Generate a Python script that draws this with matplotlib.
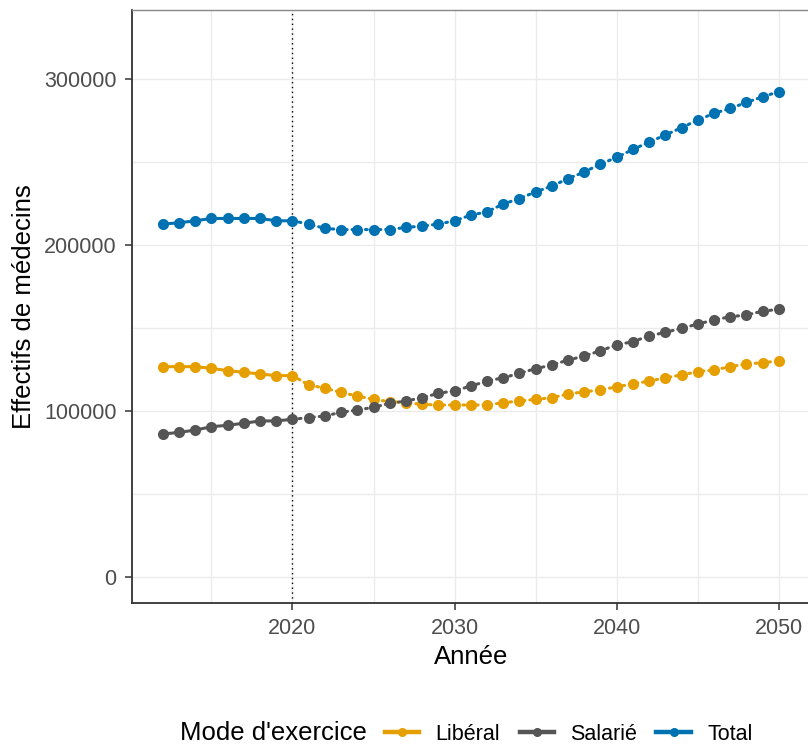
import numpy as np
import matplotlib.pyplot as plt
from matplotlib.lines import Line2D

plt.rcParams['font.family'] = ['Liberation Sans', 'DejaVu Sans']

years = np.arange(2012, 2051)

liberal = [126.7, 126.7, 126.7, 125.7, 124.3, 123.3, 122.3, 121.3, 121.3,
           115.7, 113.7, 111.2, 109.0, 107.0, 105.6, 105.0, 104.0, 103.6, 103.6,
           103.6, 103.6, 105.0, 106.0, 107.0, 108.0, 110.2, 111.6, 112.6, 114.6,
           116.3, 118.0, 120.0, 121.7, 123.7, 124.7, 126.7, 128.3, 129.1, 130.1]
salarie = [86.1, 87.1, 88.5, 90.5, 91.4, 92.6, 94.0, 94.0, 95.0,
           96.0, 97.0, 99.2, 100.6, 102.2, 104.6, 106.0, 108.0, 110.6, 112.2,
           115.0, 118.0, 120.0, 122.7, 125.5, 127.7, 130.7, 133.1, 136.3, 139.8,
           141.8, 145.2, 147.4, 149.8, 152.4, 154.8, 156.8, 157.8, 160.2, 161.2]
total = [212.6, 213.4, 214.6, 216.0, 216.0, 216.0, 216.0, 214.6, 214.6,
         212.6, 210.0, 209.3, 209.3, 209.3, 209.3, 210.6, 211.4, 212.6, 214.6,
         218.0, 220.0, 224.7, 228.0, 232.0, 235.5, 240.0, 244.0, 248.8, 252.8,
         257.6, 262.0, 266.3, 270.7, 275.3, 279.3, 282.3, 285.9, 289.3, 292.4]

series_names = ['Libéral', 'Salarié', 'Total']
series_values = [liberal, salarie, total]
colors = ['#E69F00', '#555555', '#0072B2']
cutoff_year = 2020

fig = plt.figure(figsize=(8.08, 7.49), dpi=100)
ax = fig.add_axes([132 / 808, 1 - 603 / 749, 1 - 132 / 808 + 0.002, (603 - 10) / 749])

for name, vals, col in zip(series_names, series_values, colors):
    y = np.array(vals) * 1000
    obs = years <= cutoff_year
    proj = years >= cutoff_year
    ax.plot(years[obs], y[obs], color=col, lw=2.2, solid_capstyle='round', zorder=3)
    ax.plot(years[proj], y[proj], color=col, lw=2.2, linestyle=(0, (0.6, 1.6)),
            dash_capstyle='round', zorder=3)
    ax.plot(years, y, 'o', color=col, markersize=8, markeredgewidth=0, zorder=4)

ax.axvline(cutoff_year, color='black', lw=1.0, linestyle=(0, (1, 2.5)), zorder=2)

ax.set_xlim(2010.1, 2051.9)
ax.set_ylim(-15700, 341600)
ax.set_xticks([2020, 2030, 2040, 2050])
ax.set_xticks([2015, 2025, 2035, 2045], minor=True)
ax.set_yticks([0, 100000, 200000, 300000])
ax.set_yticks([50000, 150000, 250000], minor=True)
ax.set_yticklabels(['0', '100000', '200000', '300000'])
ax.grid(True, which='both', color='#EBEBEB', lw=1.0, zorder=0)
ax.set_axisbelow(True)

ax.tick_params(axis='both', which='major', labelsize=15.5, labelcolor='#4D4D4D',
               color='#333333', length=5, width=1.1, pad=6)
ax.tick_params(axis='both', which='minor', length=0)

for side in ['left', 'bottom']:
    ax.spines[side].set_color('#333333')
    ax.spines[side].set_linewidth(1.3)
ax.spines['top'].set_color('#888888')
ax.spines['top'].set_linewidth(1.0)
ax.spines['right'].set_visible(False)

ax.set_xlabel('Année', fontsize=18.5, labelpad=4)
ax.set_ylabel('Effectifs de médecins', fontsize=18.5, labelpad=6)

fig.text(180 / 808, 1 - 733 / 749, "Mode d'exercice", fontsize=18.5, va='center', ha='left')
handles = [Line2D([0], [0], color=c, lw=3.2, marker='o', markersize=6.5, markeredgewidth=0)
           for c in colors]
fig.legend(handles, series_names, loc='center left', bbox_to_anchor=(385 / 808, 1 - 734 / 749),
           ncol=3, frameon=False, fontsize=15.5, handlelength=1.6, handletextpad=0.75,
           columnspacing=0.9, borderaxespad=0, borderpad=0)

fig.savefig('out.png', dpi=100, facecolor='white')
